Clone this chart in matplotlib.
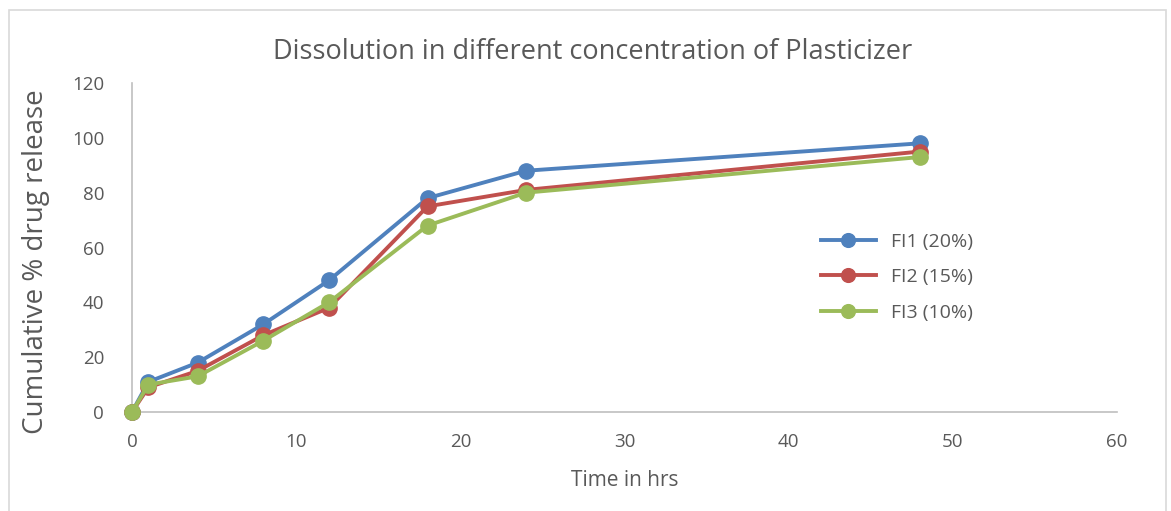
import matplotlib
matplotlib.use("Agg")
import matplotlib.pyplot as plt
from matplotlib.patches import Rectangle

plt.rcParams["font.family"] = ["Open Sans", "DejaVu Sans"]

time_hrs = [0, 1, 4, 8, 12, 18, 24, 48]
fi1 = [0, 11, 18, 32, 48, 78, 88, 98]
fi2 = [0, 9, 15, 28, 38, 75, 81, 95]
fi3 = [0, 10, 13, 26, 40, 68, 80, 93]
labels = ["FI1 (20%)", "FI2 (15%)", "FI3 (10%)"]
colors = ["#4F81BD", "#C0504D", "#9BBB59"]

text_color = "#595959"
axis_color = "#BFBFBF"

fig = plt.figure(figsize=(11.71, 5.11), dpi=100)
fig.patches.append(Rectangle((9 / 1171, -0.01), 1157 / 1171, 1 - 10 / 511 + 0.01,
                             transform=fig.transFigure, fill=False,
                             edgecolor="#D9D9D9", linewidth=1.2))
ax = fig.add_axes([132 / 1171, (511 - 412) / 511, (1117 - 132) / 1171, (412 - 83) / 511])

for series, lab, col in zip([fi1, fi2, fi3], labels, colors):
    ax.plot(time_hrs, series, color=col, linewidth=2.8, marker="o",
            markersize=11, label=lab, clip_on=False, zorder=3)

ax.set_xlim(0, 60)
ax.set_ylim(0, 120)
ax.set_xticks(range(0, 61, 10))
ax.set_yticks(range(0, 121, 20))
for side in ["top", "right"]:
    ax.spines[side].set_visible(False)
for side in ["left", "bottom"]:
    ax.spines[side].set_color(axis_color)
    ax.spines[side].set_linewidth(1.2)
ax.tick_params(length=0, labelsize=13.5, labelcolor=text_color)
ax.tick_params(axis="x", pad=15)
ax.tick_params(axis="y", pad=20)

ax.set_title("Dissolution in different concentration of Plasticizer",
             fontsize=19.5, color=text_color, pad=17, x=0.468)
ax.set_xlabel("Time in hrs", fontsize=15, color=text_color, labelpad=14)
ax.set_ylabel("Cumulative % drug release", fontsize=20, color=text_color)
ax.yaxis.set_label_coords(-0.083, 0.456)

ax.legend(loc="upper left", bbox_to_anchor=(0.682, 0.598), frameon=False,
          fontsize=14, labelcolor=text_color, handlelength=2.8,
          labelspacing=0.9, markerscale=0.9)

fig.savefig("out.png", dpi=100)
